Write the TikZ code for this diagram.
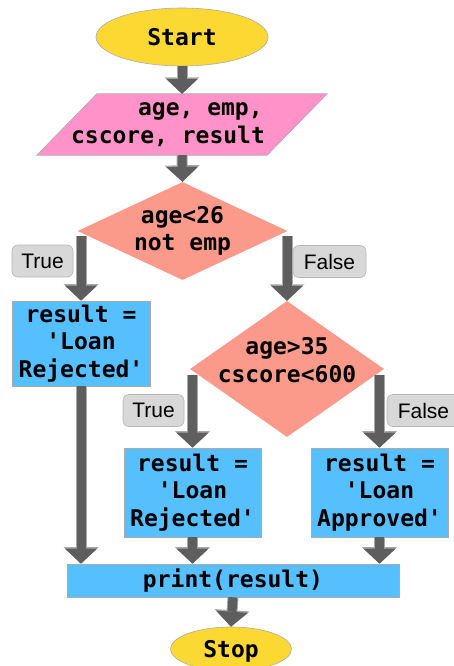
\documentclass[tikz,border=0pt]{standalone}
\usepackage{fontspec}
\setmainfont{Liberation Sans}
\setmonofont{DejaVu Sans Mono}
\usetikzlibrary{arrows.meta,shapes.geometric}

\definecolor{termfill}{HTML}{FCD833}
\definecolor{iofill}{HTML}{FF93C9}
\definecolor{decfill}{HTML}{FB998B}
\definecolor{procfill}{HTML}{56C0FF}
\definecolor{shapeedge}{HTML}{ABABAB}
\definecolor{flowgray}{HTML}{5E5E5E}
\definecolor{flowedge}{HTML}{A8A8A8}
\definecolor{tagfill}{HTML}{D8D8D8}
\definecolor{tagedge}{HTML}{B5B5B5}

\begin{document}
\begin{tikzpicture}[x=1pt,y=-1pt,
  code/.style={font=\ttfamily\bfseries\fontsize{23}{27.5}\selectfont, align=center, inner sep=0pt},
  terminal/.style={ellipse, fill=termfill, draw=shapeedge, line width=0.6pt, code, text depth=0pt},
  procbox/.style={rectangle, fill=procfill, draw=shapeedge, line width=0.6pt, code},
  decision/.style={diamond, fill=decfill, draw=none, inner sep=0pt},
  tag/.style={rectangle, rounded corners=6pt, fill=tagfill, draw=tagedge, line width=0.6pt,
    font=\fontsize{21}{24}\selectfont, inner sep=0pt, minimum height=32pt},
  flow/.style={draw=flowgray, line width=9pt,
    -{Triangle[length=15pt 0 0, width=32pt 0 0, line width=0pt 0 0]},
    preaction={draw=flowedge, line width=11pt,
      -{Triangle[length=16.5pt 0 0, width=35pt 0 0, line width=0pt 0 0]}}}
]
\useasboundingbox (0,0) rectangle (453,666);

% start / stop
\node[terminal, minimum width=172pt, minimum height=58pt] (start) at (182,37) {Start};
\node[terminal, minimum width=121pt, minimum height=44pt] (stop) at (231,649) {Stop};

% input parallelogram
\node[minimum width=230pt, minimum height=61pt, inner sep=0pt] (inp) at (182,124.5) {};
\fill[iofill, draw=shapeedge, line width=0.6pt]
  ([xshift=30pt]inp.north west) -- ([xshift=30pt]inp.north east)
  -- ([xshift=-30pt]inp.south east) -- ([xshift=-30pt]inp.south west) -- cycle;
\node[code, align=left] (inptext) at (168,124.5) {\hspace*{67pt}age, emp,\\cscore, result};

% decisions
\node[decision, minimum width=210pt, minimum height=98pt] (d1) at (182.5,231) {};
\node[code] (d1text) at (d1) {age<26\\not emp};
\node[decision, minimum width=194pt, minimum height=136pt] (d2) at (287,369) {};
\node[code] (d2text) at (287,360) {age>35\\cscore<600};

% process boxes
\node[procbox, minimum width=138pt, minimum height=85pt] (rej1) at (81,343.5) {result =\\'Loan\\Rejected'};
\node[procbox, minimum width=137pt, minimum height=89pt] (rej2) at (192.5,492.5) {result =\\'Loan\\Rejected'};
\node[procbox, minimum width=137pt, minimum height=89pt] (app) at (379.5,492.5) {result =\\'Loan\\Approved'};
\node[procbox, minimum width=332pt, minimum height=33pt] (print) at (233,580.5) {print(result)};

% connectors
\draw[flow] (start.south) -- (inp.north);
\draw[flow] (inp.south) -- (d1.north);
\draw[flow] ([yshift=-5pt]d1.west -| rej1.north) -- (rej1.north);
\draw[flow] ([yshift=-5pt]d1.east -| d2.north) -- (d2.north);
\draw[flow] ([yshift=-6pt]d2.west -| rej2.north) -- (rej2.north);
\draw[flow] ([yshift=-6pt]d2.east -| app.north) -- (app.north);
\draw[flow] (rej1.south) -- (rej1.south |- print.north);
\draw[flow] (rej2.south) -- (rej2.south |- print.north);
\draw[flow] (app.south) -- (app.south |- print.north);
\draw[flow] (print.south) -- (stop.north);

% branch labels
\node[tag, minimum width=61pt] (t1) at (42.5,261) {True};
\node[tag, minimum width=73pt] (f1) at (329.5,261.5) {False};
\node[tag, minimum width=61pt] (t2) at (153.5,410.5) {True};
\node[tag, minimum width=73pt] (f2) at (423.5,410.5) {False};
\end{tikzpicture}
\end{document}
